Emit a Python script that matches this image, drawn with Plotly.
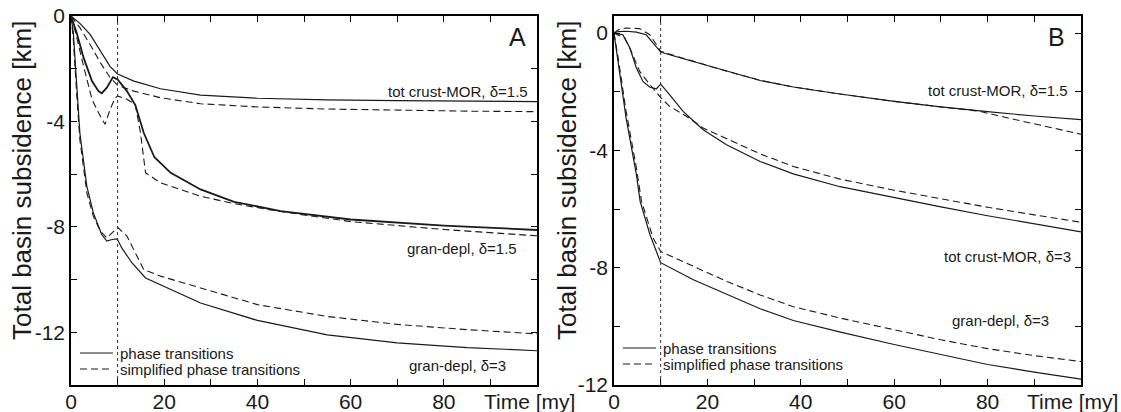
import plotly.graph_objects as go
from plotly.subplots import make_subplots

FONT = "Liberation Sans, Arial, sans-serif"
INK = "#1a1a1a"
DASH = "7px,4px"

# ---- panel A : time [my] / total subsidence [km] ----
a_tot15_t = [0, 1.9, 4.1, 6.3, 8.4, 10, 13.5, 19.2, 27.8, 40, 55, 70, 85, 100]
a_tot15_full = [0, -0.28, -0.7, -1.33, -1.92, -2.2, -2.47, -2.76, -3.0, -3.12, -3.18, -3.21, -3.23, -3.25]
a_tot15_simp = [0, -0.44, -1.08, -1.77, -2.34, -2.63, -2.85, -3.1, -3.33, -3.45, -3.53, -3.58, -3.61, -3.63]

a_gr15_t_full = [0, 1.2, 2.7, 4.5, 5.9, 6.6, 7.7, 9.0, 10, 12, 13.8, 15.6, 17.9, 21.4, 27.8, 35, 45, 60, 80, 100]
a_gr15_full = [0, -0.63, -1.58, -2.47, -2.85, -2.93, -2.72, -2.32, -2.41, -2.85, -3.38, -4.43, -5.36, -5.95, -6.58,
               -7.05, -7.4, -7.72, -7.95, -8.12]
a_gr15_t_simp = [0, 0.9, 2.7, 4.5, 5.9, 7.3, 8.4, 9.5, 10.1, 12, 13.8, 14.9, 16, 19.2, 27.8, 35, 45, 60, 80, 100]
a_gr15_simp = [0, -0.57, -1.9, -3.16, -3.67, -4.11, -3.54, -3.1, -3.04, -3.16, -3.35, -4.43, -5.95, -6.33, -6.84,
               -7.12, -7.42, -7.8, -8.1, -8.34]

a_gr3_t_full = [0, 0.5, 1.2, 1.9, 3.4, 4.8, 6.6, 7.7, 8.8, 9.9, 10.9, 13.1, 16, 19.2, 27.8, 40, 55, 70, 85, 100]
a_gr3_full = [0, -0.63, -2.53, -4.43, -6.46, -7.47, -8.3, -8.54, -8.48, -8.46, -8.8, -9.37, -9.94, -10.19, -10.89,
              -11.55, -12.1, -12.4, -12.58, -12.7]
a_gr3_t_simp = [0, 0.5, 1.2, 1.9, 3.4, 4.8, 6.3, 7.7, 8.8, 10, 12, 13.8, 15.6, 19.2, 27.8, 40, 55, 70, 85, 100]
a_gr3_simp = [0, -0.89, -2.91, -4.68, -6.71, -7.6, -8.16, -8.42, -8.23, -8.02, -8.35, -8.99, -9.62, -9.87, -10.32,
              -10.95, -11.4, -11.7, -11.9, -12.06]

# ---- panel B ----
b_tot15_t_full = [0, 1, 2.6, 4.8, 6.9, 8.4, 10, 11.9, 17, 24.1, 31.3, 38.4, 48.4, 60, 70, 80, 90, 100]
b_tot15_full = [0, 0.05, 0.06, 0.03, -0.06, -0.34, -0.65, -0.74, -0.97, -1.31, -1.62, -1.84, -2.08, -2.33, -2.52,
                -2.68, -2.83, -2.95]
b_tot15_t_simp = [0, 1, 2.6, 5.5, 7.7, 10, 11.9, 17, 24.1, 31.3, 38.4, 48.4, 60, 70, 78, 85, 90, 100]
b_tot15_simp = [0, 0.12, 0.17, 0.15, -0.06, -0.62, -0.72, -0.96, -1.3, -1.61, -1.84, -2.08, -2.33, -2.52, -2.66,
                -2.92, -3.1, -3.45]

b_tot3_t_full = [0, 1.9, 3.4, 4.8, 6.2, 7.7, 9.1, 10, 11.9, 14.8, 19.1, 24.1, 31.3, 38.4, 48.4, 60, 70, 80, 90, 100]
b_tot3_full = [0, -0.06, -0.51, -1.19, -1.65, -1.85, -1.9, -1.74, -2.1, -2.67, -3.3, -3.81, -4.38, -4.8, -5.24,
               -5.62, -5.93, -6.23, -6.51, -6.78]
b_tot3_t_simp = [0, 2.3, 3.7, 5.5, 7.7, 9.1, 10, 11.9, 15.5, 19.1, 24.1, 31.3, 38.4, 48.4, 60, 70, 80, 90, 100]
b_tot3_simp = [0, -0.17, -0.62, -1.31, -1.76, -2.05, -2.2, -2.5, -2.84, -3.24, -3.6, -4.12, -4.55, -4.98, -5.36,
               -5.66, -5.94, -6.2, -6.45]

b_gr3_t_full = [0, 0.9, 2.6, 4.8, 5.6, 7.7, 10, 17, 24.2, 31.3, 38.4, 48.5, 60, 70, 80, 90, 100]
b_gr3_full = [0, -0.97, -2.9, -4.83, -5.74, -6.87, -7.83, -8.41, -8.92, -9.4, -9.8, -10.2, -10.62, -10.96, -11.3,
              -11.56, -11.8]
b_gr3_t_simp = [0, 0.9, 2.6, 4.8, 5.9, 8.4, 10, 17, 24.2, 31.3, 38.4, 48.5, 60, 70, 80, 90, 100]
b_gr3_simp = [0, -0.85, -2.67, -4.6, -5.74, -7.0, -7.45, -7.96, -8.47, -8.93, -9.33, -9.72, -10.12, -10.46, -10.76,
              -11.0, -11.2]

x_ticks = [0, 10, 20, 30, 40, 50, 60, 70, 80, 90, 100]
x_text = ["0", "", "20", "", "40", "", "60", "", "80", "", ""]
y_ticks = [0, -2, -4, -6, -8, -10, -12, -14]
y_text = ["0", "", "-4", "", "-8", "", "-12", ""]

fig = make_subplots(rows=1, cols=2)

curves = [
    (1, a_tot15_t, a_tot15_full, a_tot15_t, a_tot15_simp, 1.2),
    (1, a_gr15_t_full, a_gr15_full, a_gr15_t_simp, a_gr15_simp, 1.8),
    (1, a_gr3_t_full, a_gr3_full, a_gr3_t_simp, a_gr3_simp, 1.2),
    (2, b_tot15_t_full, b_tot15_full, b_tot15_t_simp, b_tot15_simp, 1.2),
    (2, b_tot3_t_full, b_tot3_full, b_tot3_t_simp, b_tot3_simp, 1.2),
    (2, b_gr3_t_full, b_gr3_full, b_gr3_t_simp, b_gr3_simp, 1.2),
]
for col, tf, zf, ts, zs, w in curves:
    fig.add_trace(go.Scatter(x=ts, y=zs, mode="lines", line=dict(color=INK, width=1.1, dash=DASH),
                             showlegend=False, hoverinfo="skip"), row=1, col=col)
    fig.add_trace(go.Scatter(x=tf, y=zf, mode="lines", line=dict(color=INK, width=w),
                             showlegend=False, hoverinfo="skip"), row=1, col=col)

# dotted marker at 10 my
for col in (1, 2):
    fig.add_vline(x=10, line=dict(color="#333333", width=1, dash="dot"), row=1, col=col)

axis_style = dict(
    showline=True, linecolor="black", linewidth=1.5, mirror="ticks",
    ticks="inside", ticklen=6, tickwidth=1, tickcolor="black",
    showgrid=False, zeroline=False, automargin=False,
    tickfont=dict(family=FONT, size=21, color=INK),
)
fig.update_xaxes(axis_style, tickvals=x_ticks, ticktext=x_text, range=[0, 100], ticklabelstandoff=-3)
fig.update_yaxes(axis_style, tickvals=y_ticks, ticktext=y_text)
fig.update_layout(
    xaxis=dict(domain=[0, 0.4614]),
    xaxis2=dict(domain=[0.5376, 1]),
    yaxis=dict(range=[-14, 0]),
    yaxis2=dict(range=[-12, 0.58]),
)

W, H = 1121, 412
L, R, T, B = 71, 40, 16, 27


def px(x):
    return (x - L) / (W - L - R)


def py(y):
    return (H - B - y) / (H - T - B)


ann = []
# y axis titles
for xc in (22, 567):
    ann.append(dict(text="Total basin subsidence [km]", textangle=-90, x=px(xc), y=py(181),
                    xref="paper", yref="paper", xanchor="center", yanchor="middle", showarrow=False,
                    font=dict(family=FONT, size=26, color=INK)))
# x axis titles
for xr in ("x", "x2"):
    ann.append(dict(text="Time [my]", x=100, xref=xr, y=py(402), yref="paper", yanchor="middle",
                    xanchor="center", xshift=-8, showarrow=False,
                    font=dict(family=FONT, size=21, color=INK)))
# panel letters
for letter, xr in (("A", 528), ("B", 1067)):
    ann.append(dict(text=letter, x=px(xr), y=py(37), xref="paper", yref="paper", xanchor="right",
                    yanchor="middle", showarrow=False, font=dict(family=FONT, size=25, color=INK)))
# curve labels
labels = [
    ("tot crust-MOR, δ=1.5", 530, 91),
    ("gran-depl, δ=1.5", 519, 248),
    ("gran-depl, δ=3", 508, 365),
    ("tot crust-MOR, δ=1.5", 1070, 90),
    ("tot crust-MOR, δ=3", 1073, 256),
    ("gran-depl, δ=3", 1051, 320),
]
for txt, xr, yc in labels:
    ann.append(dict(text=txt, x=px(xr), y=py(yc), xref="paper", yref="paper", xanchor="right",
                    yanchor="middle", showarrow=False, font=dict(family=FONT, size=15, color=INK)))

# legends
shapes = []
for x0, y0 in ((80, 353), (623, 348)):
    for i, (name, dash) in enumerate((("phase transitions", "solid"),
                                       ("simplified phase transitions", "dash"))):
        yy = y0 + 16 * i
        shapes.append(dict(type="line", xref="paper", yref="paper",
                           x0=px(x0), x1=px(x0 + 33), y0=py(yy), y1=py(yy),
                           line=dict(color=INK, width=1.1, dash=DASH if dash == "dash" else "solid")))
        ann.append(dict(text=name, x=px(x0 + 38), y=py(yy), xref="paper", yref="paper",
                        xanchor="left", yanchor="middle", showarrow=False,
                        font=dict(family=FONT, size=15, color=INK)))

fig.update_layout(
    width=W, height=H,
    margin=dict(l=L, r=R, t=T, b=B, autoexpand=False),
    paper_bgcolor="white", plot_bgcolor="white",
    annotations=ann, shapes=list(fig.layout.shapes) + shapes,
    font=dict(family=FONT, color=INK),
)

# the page's default body margin would offset the figure by 8px
fig.write_html("out.html", config={"displayModeBar": False},
               post_script="document.body.style.margin = '0';")
